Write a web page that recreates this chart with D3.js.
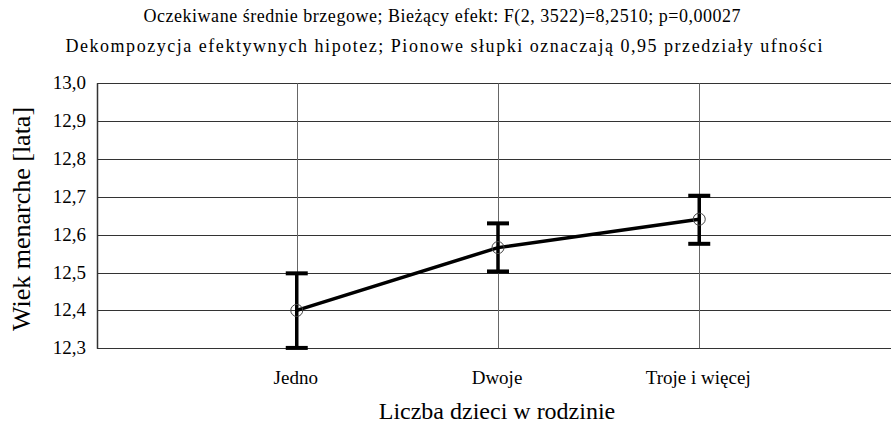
<!DOCTYPE html>
<html>
<head>
<meta charset="utf-8">
<script src="https://cdn.jsdelivr.net/npm/d3@7"></script>
<style>
  body { margin: 0; background: #fff; }
  text { font-family: "Liberation Serif", serif; }
</style>
</head>
<body>
<svg width="891" height="428"></svg>
<script>
// data
let categories = ['Jedno', 'Dwoje', 'Troje i więcej'];
let means = [12.400, 12.566, 12.641];
let lower = [12.301, 12.503, 12.576];
let upper = [12.498, 12.630, 12.703];
let yTicks = [12.3, 12.4, 12.5, 12.6, 12.7, 12.8, 12.9, 13.0];

let title1 = 'Oczekiwane średnie brzegowe; Bieżący efekt: F(2, 3522)=8,2510; p=0,00027';
let title2 = 'Dekompozycja efektywnych hipotez; Pionowe słupki oznaczają 0,95 przedziały ufności';

let svg = d3.select('svg');
let plotLeft = 97, plotTop = 83.3, plotBottom = 348.3;
let serif = '"Liberation Serif", serif';

let x = d3.scalePoint()
  .domain(categories)
  .range([95.5, 900.5])
  .padding(1);

let y = d3.scaleLinear()
  .domain([12.3, 13.0])
  .range([plotBottom, plotTop]);

let fmt = d => d.toFixed(1).replace('.', ',');

// horizontal grid
svg.append('g')
  .selectAll('line')
  .data(yTicks)
  .enter()
  .append('line')
  .attr('x1', plotLeft)
  .attr('x2', 891)
  .attr('y1', d => Math.round(y(d)) + 0.5)
  .attr('y2', d => Math.round(y(d)) + 0.5)
  .style('stroke', '#333')
  .style('stroke-width', 1.2);

// vertical lines at categories
svg.append('g')
  .selectAll('line')
  .data(categories)
  .enter()
  .append('line')
  .attr('x1', d => Math.round(x(d)) + 0.5)
  .attr('x2', d => Math.round(x(d)) + 0.5)
  .attr('y1', plotTop)
  .attr('y2', plotBottom)
  .style('stroke', '#666')
  .style('stroke-width', 1);

// left frame
svg.append('line')
  .attr('x1', plotLeft + 0.5).attr('x2', plotLeft + 0.5)
  .attr('y1', y(13.0)).attr('y2', y(12.3) + 0.5)
  .style('stroke', '#333')
  .style('stroke-width', 1.5);

// y tick labels
svg.append('g')
  .selectAll('text')
  .data(yTicks)
  .enter()
  .append('text')
  .attr('x', 86)
  .attr('y', d => y(d) + 6)
  .attr('text-anchor', 'end')
  .attr('font-family', serif)
  .style('font-size', '19px')
  .text(fmt);

// x tick labels
svg.append('g')
  .selectAll('text')
  .data(categories)
  .enter()
  .append('text')
  .attr('x', d => x(d) - 1)
  .attr('y', 384)
  .attr('text-anchor', 'middle')
  .attr('font-family', serif)
  .style('font-size', '19px')
  .text(d => d);

// error bars
let bars = svg.append('g');
categories.forEach((c, i) => {
  let cx = x(c);
  bars.append('line')
    .attr('x1', cx).attr('x2', cx)
    .attr('y1', y(lower[i])).attr('y2', y(upper[i]))
    .style('stroke', '#000').style('stroke-width', 3.5);
  [lower[i], upper[i]].forEach(v => {
    bars.append('line')
      .attr('x1', cx - 11).attr('x2', cx + 11)
      .attr('y1', y(v)).attr('y2', y(v))
      .style('stroke', '#000').style('stroke-width', 4);
  });
});

// mean line
let line = d3.line()
  .x((d, i) => x(categories[i]))
  .y(d => y(d));

svg.append('path')
  .attr('d', line(means))
  .style('fill', 'none')
  .style('stroke', '#000')
  .style('stroke-width', 3.5);

// mean markers
svg.append('g')
  .selectAll('circle')
  .data(means)
  .enter()
  .append('circle')
  .attr('cx', (d, i) => x(categories[i]))
  .attr('cy', d => y(d))
  .attr('r', 6)
  .style('fill', 'none')
  .style('stroke', '#444')
  .style('stroke-width', 1);

// titles
svg.append('text')
  .attr('x', 442).attr('y', 22)
  .attr('text-anchor', 'middle')
  .attr('font-family', serif)
  .attr('textLength', 597)
  .style('font-size', '18px')
  .text(title1);

svg.append('text')
  .attr('x', 444).attr('y', 52)
  .attr('text-anchor', 'middle')
  .attr('font-family', serif)
  .attr('textLength', 757)
  .style('font-size', '18px')
  .text(title2);

// axis titles
svg.append('text')
  .attr('x', 497).attr('y', 419)
  .attr('text-anchor', 'middle')
  .attr('font-family', serif)
  .style('font-size', '24px')
  .text('Liczba dzieci w rodzinie');

svg.append('text')
  .attr('transform', 'translate(30,219) rotate(-90)')
  .attr('text-anchor', 'middle')
  .attr('font-family', serif)
  .style('font-size', '26px')
  .text('Wiek menarche [lata]');
</script>
</body>
</html>
